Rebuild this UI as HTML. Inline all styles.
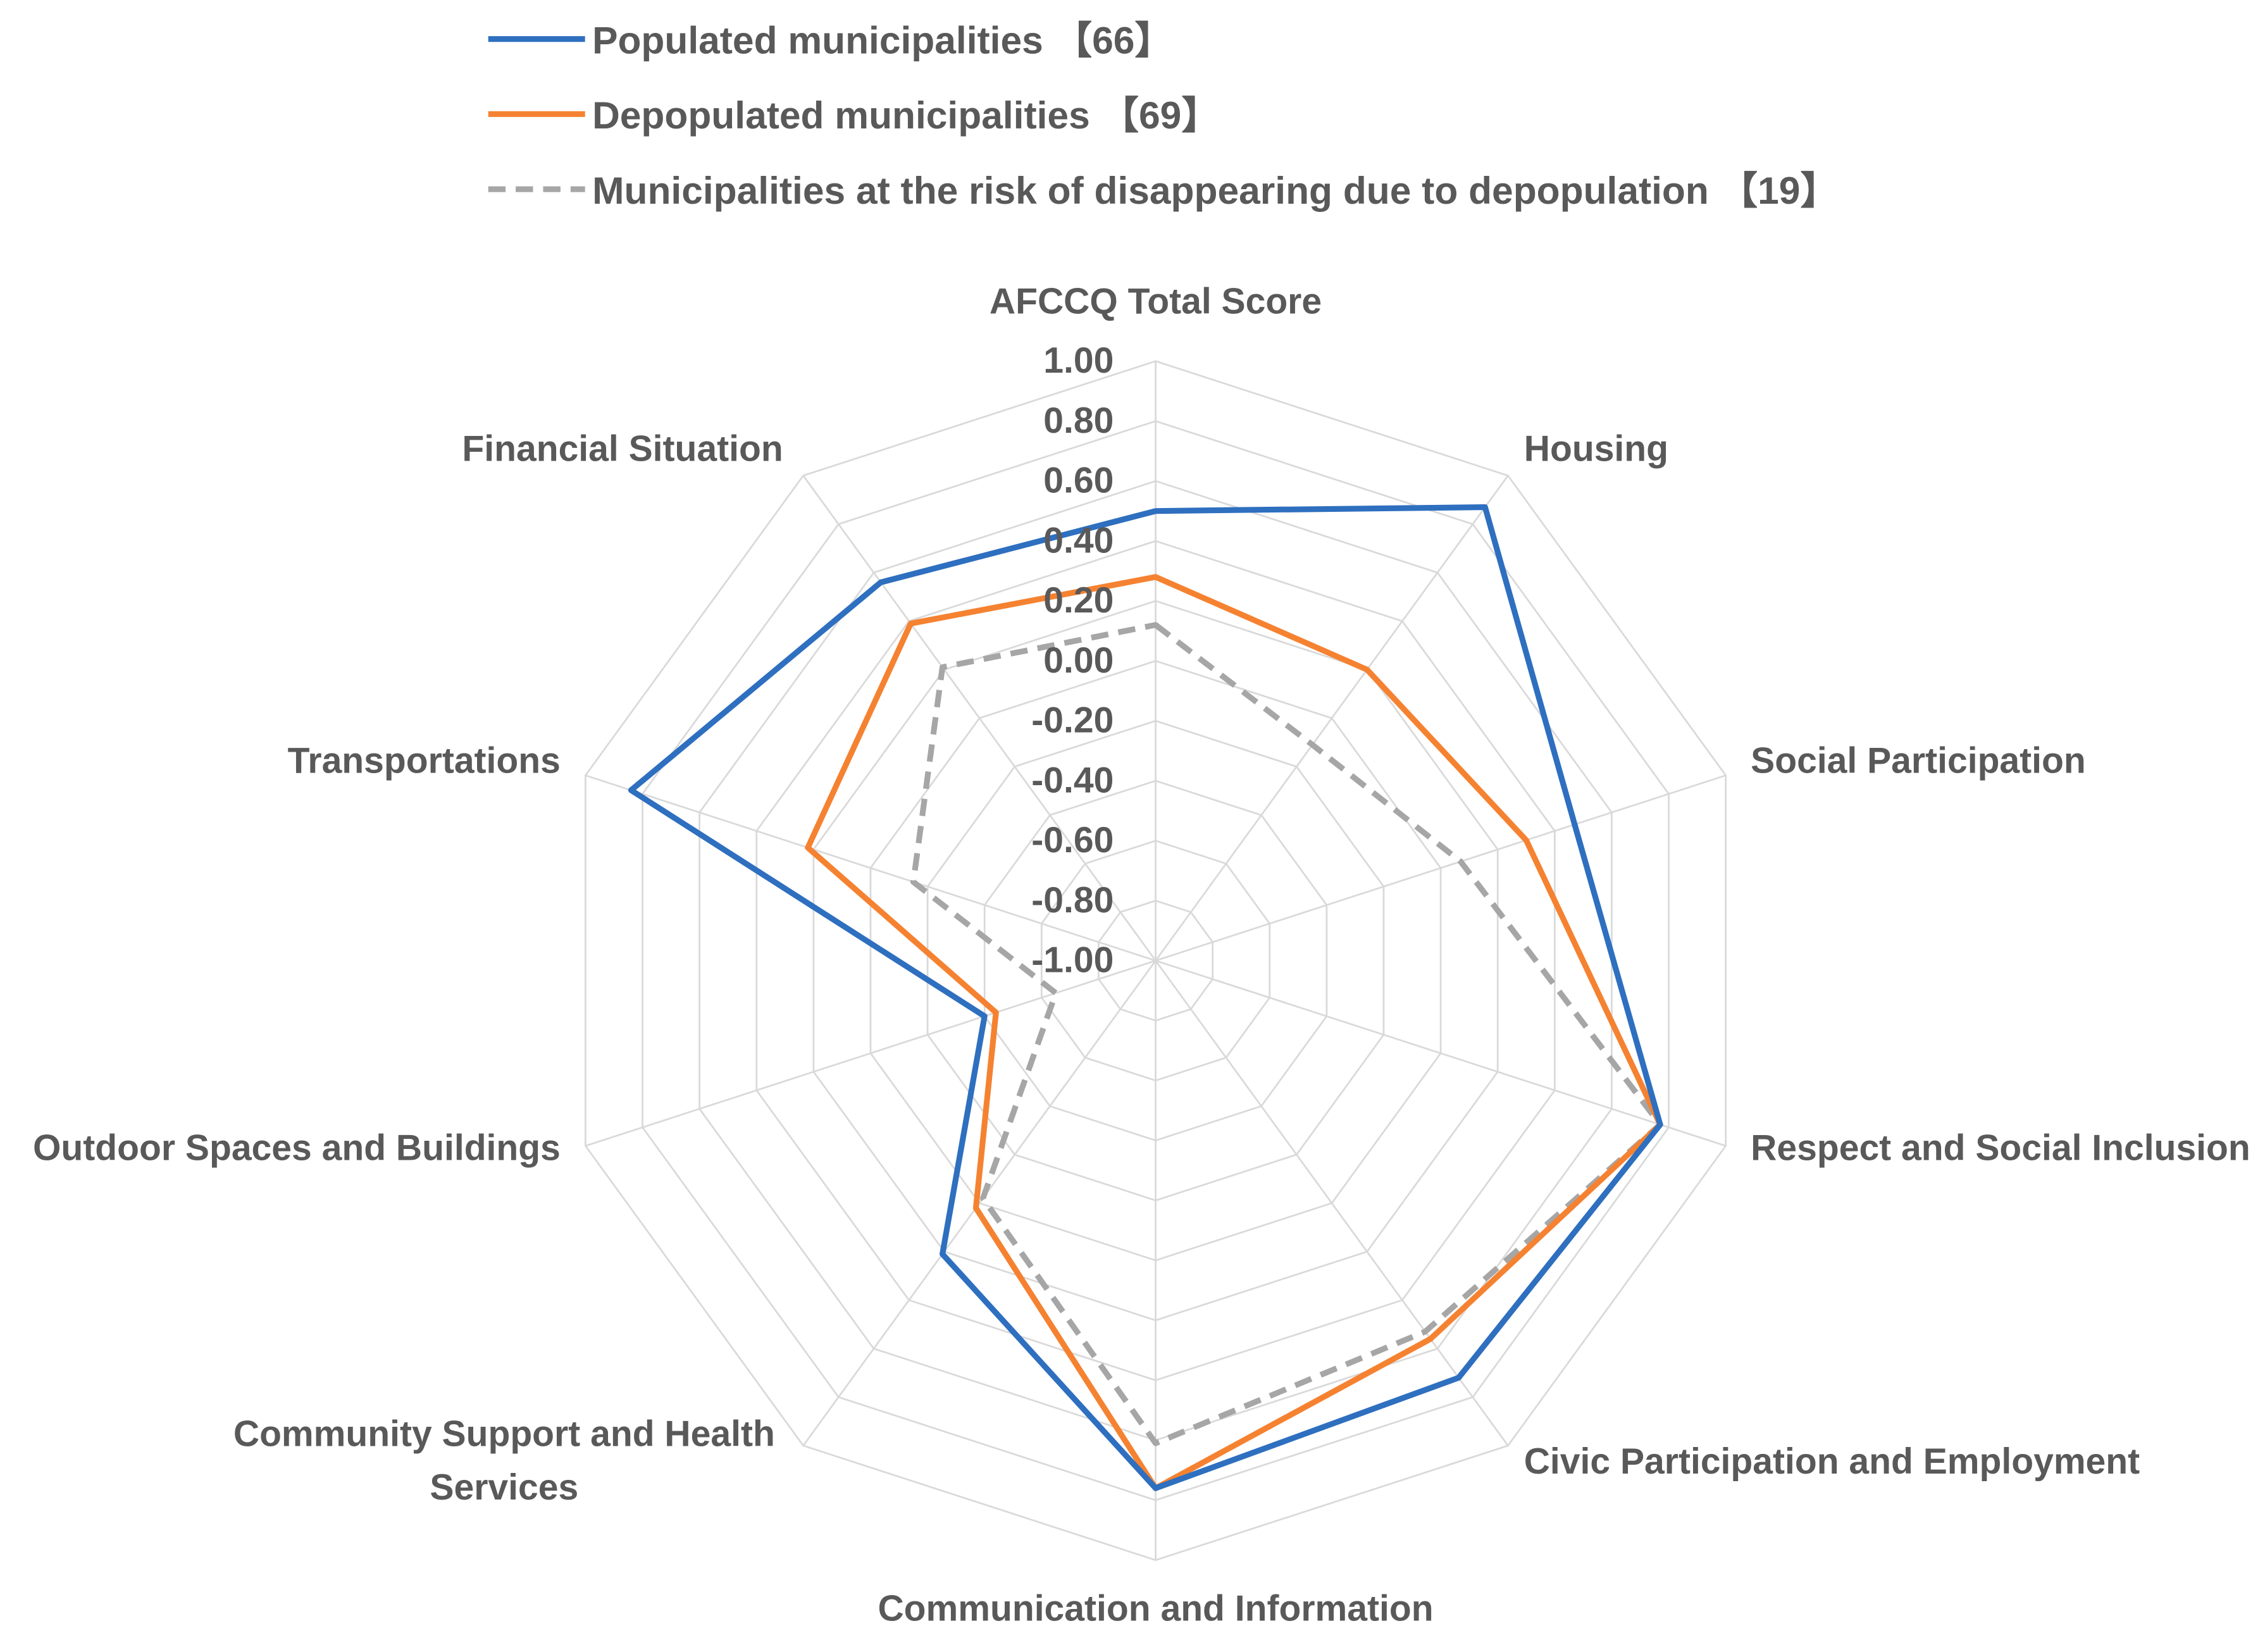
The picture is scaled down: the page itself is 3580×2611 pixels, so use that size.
<!DOCTYPE html>
<html><head><meta charset="utf-8"><style>
html,body{margin:0;padding:0;background:#fff;}
svg{display:block;font-family:"Liberation Sans",sans-serif;font-weight:bold;}
</style></head><body>
<svg id="chart" width="3580" height="2611" viewBox="0 0 1568 1143.6" xmlns="http://www.w3.org/2000/svg">
<g font-size="26.5" fill="#595959">
  <g>
    <line x1="338" y1="27" x2="405" y2="27" stroke="#2e6fbf" stroke-width="4"/>
    <text x="410" y="37">Populated municipalities 【66】</text>
  </g>
  <g>
    <line x1="338" y1="79" x2="405" y2="79" stroke="#f58231" stroke-width="4"/>
    <text x="410" y="89">Depopulated municipalities 【69】</text>
  </g>
  <g>
    <line x1="338" y1="131" x2="405" y2="131" stroke="#a6a6a6" stroke-width="4" stroke-dasharray="12,7"/>
    <text x="410" y="141">Municipalities at the risk of disappearing due to depopulation 【19】</text>
  </g>
</g>
<g id="grid"></g>
<g id="series"></g>
<g id="ticks" font-size="25" fill="#595959"></g>
<g id="cats" font-size="25" fill="#595959"></g>
</svg>
<script>
const categories = ["AFCCQ Total Score","Housing","Social Participation","Respect and Social Inclusion","Civic Participation and Employment","Communication and Information","Community Support and Health Services","Outdoor Spaces and Buildings","Transportations","Financial Situation"];
const populated = [0.50,0.87,0.47,0.77,0.72,0.76,0.21,-0.40,0.84,0.56];
const depopulated = [0.28,0.20,0.30,0.77,0.56,0.76,0.02,-0.44,0.22,0.39];
const atRisk = [0.12,-0.11,0.07,0.77,0.53,0.61,-0.02,-0.65,-0.15,0.21];
const tickValues = [-1,-0.8,-0.6,-0.4,-0.2,0,0.2,0.4,0.6,0.8,1];
const tickLabels = ["-1.00","-0.80","-0.60","-0.40","-0.20","0.00","0.20","0.40","0.60","0.80","1.00"];

const NS="http://www.w3.org/2000/svg";
const cx=800, cy=665, R=415, vMin=-1, vMax=1;
const n=categories.length;
function rScale(v){return (v-vMin)/(vMax-vMin)*R;}
function pt(i,v){const a=i*2*Math.PI/n;const r=rScale(v);return [cx+r*Math.sin(a), cy-r*Math.cos(a)];}
function mk(tag,attrs,parent){const e=document.createElementNS(NS,tag);for(const k in attrs)e.setAttribute(k,attrs[k]);parent.appendChild(e);return e;}

const grid=document.getElementById('grid');
tickValues.forEach((tv)=>{
  if(tv===vMin) return;
  const pts=categories.map((c,i)=>pt(i,tv).join(',')).join(' ');
  const p=mk('polygon',{points:pts,fill:'none',stroke:'#d9d9d9','stroke-width':1.2},grid);
  
  
});
categories.forEach((c,i)=>{
  const [x,y]=pt(i,vMax);
  const l=mk('line',{x1:cx,y1:cy,x2:x,y2:y,stroke:'#d9d9d9','stroke-width':1.2},grid);
  
  
});

const ser=document.getElementById('series');
function drawSeries(vals,color,dash,name){
  const pts=vals.map((v,i)=>pt(i,v).join(',')).join(' ');
  const attrs={points:pts,fill:'none',stroke:color,'stroke-width':4,'stroke-linejoin':'round'};
  if(dash) attrs['stroke-dasharray']=dash;
  const p=mk('polygon',attrs,ser);
  
  
}
drawSeries(atRisk,'#a6a6a6','12,7','series-at-risk');
drawSeries(depopulated,'#f58231',null,'series-depopulated');
drawSeries(populated,'#2e6fbf',null,'series-populated');

const ticks=document.getElementById('ticks');
tickValues.forEach((tv,ti)=>{
  const y=cy-rScale(tv);
  const t=mk('text',{x:771,y:y+8,'text-anchor':'end'},ticks);
  t.textContent=tickLabels[ti];
  
  
});

// label layout (positions, anchors) — not data
const labelLayout = [
  [800,217,'middle'],[1105,319,'middle'],[1212,535,'start'],[1212,803,'start'],
  [1055,1020,'start'],[800,1122,'middle'],[349,1001,'middle'],[388,803,'end'],
  [388,535,'end'],[431,319,'middle']
];
const cats=document.getElementById('cats');
categories.forEach((c,i)=>{
  const [x,y,anc]=labelLayout[i];
  const t=mk('text',{x:x,y:y,'text-anchor':anc},cats);
  if(c==="Community Support and Health Services"){
    const t1=mk('tspan',{x:x,dy:0},t);t1.textContent="Community Support and Health";
    const t2=mk('tspan',{x:x,dy:37},t);t2.textContent="Services";
  } else {
    t.textContent=c;
  }
  
  
});
</script>
</body></html>
